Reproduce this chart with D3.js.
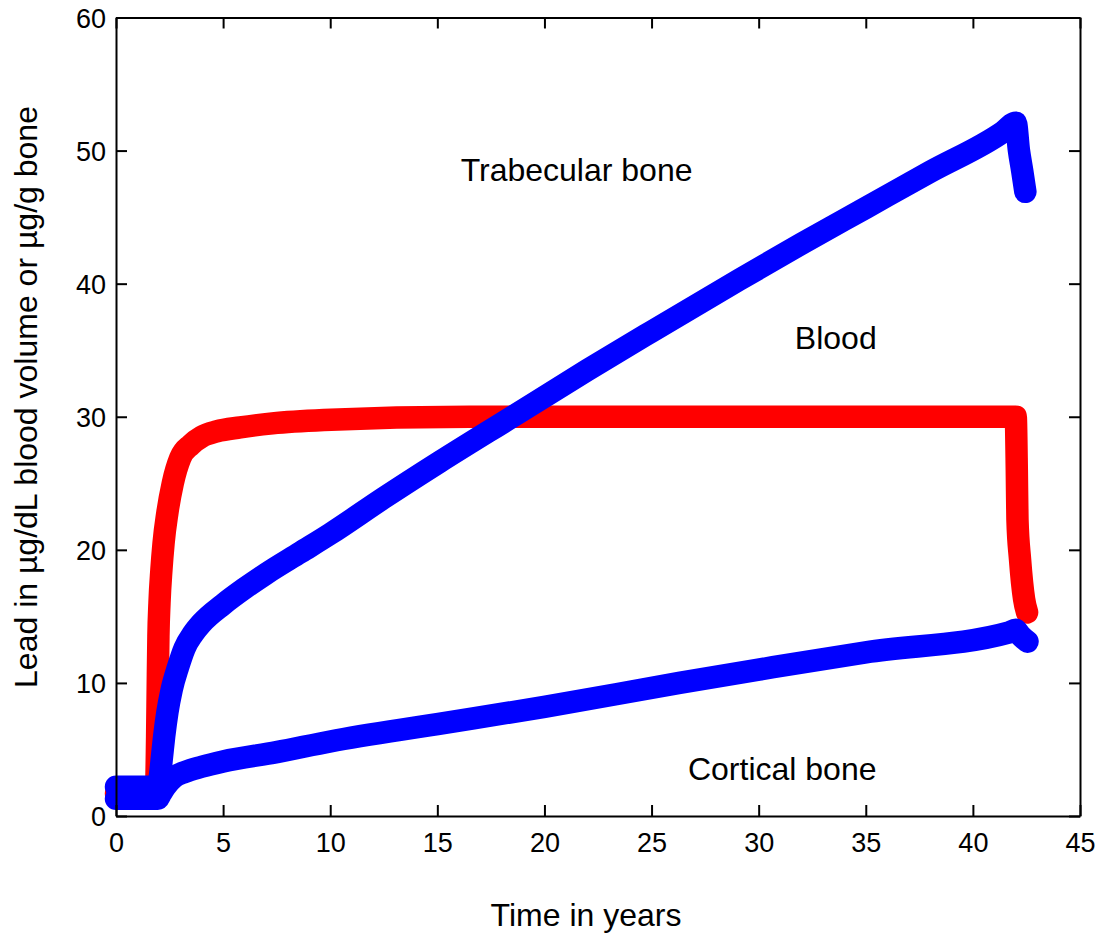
<!DOCTYPE html>
<html><head><meta charset="utf-8">
<script src="https://cdn.jsdelivr.net/npm/d3@7/dist/d3.min.js"></script>
<style>
body{margin:0;background:#fff}
text{font-family:"Liberation Sans",Arial,sans-serif;fill:#000}
</style>
</head><body>
<svg id="chart" width="1102" height="935"></svg>
<script>
// ---- data ----
const bloodTime = [0, 1.0, 1.86, 1.92, 1.95, 1.98, 2.03, 2.12, 2.22, 2.4, 2.65, 3.0, 3.5, 4.0, 4.7, 5.8, 7.3, 9.7, 16.5, 30, 42.0, 42.05, 42.08, 42.2, 42.39, 42.53];
const bloodVal  = [1.7, 1.7, 1.7, 6.0, 10.0, 13.5, 16.0, 18.5, 20.5, 22.8, 25.0, 26.9, 27.9, 28.5, 28.9, 29.2, 29.5, 29.75, 30.0, 30.0, 30.0, 26.0, 22.3, 19.3, 16.3, 15.3];

const trabTime = [0, 1.0, 1.95, 2.05, 2.15, 2.25, 2.4, 2.6, 2.9, 3.2, 3.6, 4.0, 5, 6, 7, 8.6, 10, 12.5, 15.1, 18.5, 22, 25, 29.1, 32, 35, 38, 41.4, 42.0, 42.15, 42.3, 42.45];
const trabVal  = [2.2, 2.2, 2.2, 3.0, 4.5, 6.0, 7.8, 9.5, 11.2, 12.6, 13.7, 14.5, 15.9, 17.1, 18.2, 19.8, 21.2, 23.9, 26.6, 30.0, 33.5, 36.4, 40.3, 43.0, 45.7, 48.4, 51.4, 52.1, 50.0, 48.5, 46.9];

const cortTime = [0, 1.0, 1.95, 2.1, 2.3, 2.7, 3.2, 4.0, 5, 7.5, 10, 15, 20, 26.3, 30, 35, 41.7, 42.0, 42.2, 42.55];
const cortVal  = [1.3, 1.3, 1.3, 1.7, 2.2, 2.9, 3.3, 3.7, 4.1, 4.8, 5.6, 6.9, 8.2, 10.0, 11.0, 12.3, 13.8, 14.0, 13.6, 13.1];

const xTicks = [0, 5, 10, 15, 20, 25, 30, 35, 40, 45];
const yTicks = [0, 10, 20, 30, 40, 50, 60];

const seriesNames = ["Blood", "Trabecular bone", "Cortical bone"];
const seriesColors = ["#ff0000", "#0000ff", "#0000ff"];

const annotations = [
  {text: "Trabecular bone", t: 21.5, v: 47.7},
  {text: "Blood", t: 33.6, v: 35.1},
  {text: "Cortical bone", t: 31.1, v: 2.7}
];

// ---- layout ----
const svg = d3.select("#chart");
const L = 116, R = 1080, T = 17.5, B = 816;
const x = d3.scaleLinear().domain([0, 45]).range([L, R]);
const y = d3.scaleLinear().domain([0, 60]).range([B, T]);

const series = [
  bloodTime.map((t, i) => [t, bloodVal[i]]),
  trabTime.map((t, i) => [t, trabVal[i]]),
  cortTime.map((t, i) => [t, cortVal[i]])
];

const line = d3.line().curve(d3.curveMonotoneX).x(d => x(d[0])).y(d => y(d[1]));

const g = svg.append("g");
series.forEach((s, i) => {
  g.append("path")
    .datum(s)
    .attr("d", line)
    .attr("fill", "none")
    .attr("stroke", seriesColors[i])
    .attr("stroke-width", 22.5)
    .attr("stroke-linecap", "round")
    .attr("stroke-linejoin", "round")
    .attr("data-name", seriesNames[i]);
});

// ---- axes ----
function styleAxis(sel) {
  sel.select(".domain").attr("stroke", "#000").attr("stroke-width", 2);
  sel.selectAll(".tick line").attr("stroke", "#000").attr("stroke-width", 2);
  sel.selectAll(".tick text").style("font-size", "27px").style("font-family", '"Liberation Sans",Arial,sans-serif');
}

svg.append("g").attr("transform", `translate(0,${B})`)
  .call(d3.axisBottom(x).tickValues(xTicks).tickFormat(d3.format("d")).tickSizeInner(-11).tickSizeOuter(0).tickPadding(17))
  .call(styleAxis);
svg.append("g").attr("transform", `translate(${L},0)`)
  .call(d3.axisLeft(y).tickValues(yTicks).tickFormat(d3.format("d")).tickSizeInner(-11).tickSizeOuter(0).tickPadding(10))
  .call(styleAxis)
  .selectAll(".tick text").attr("dy", "0.36em");
svg.append("g").attr("transform", `translate(0,${T})`)
  .call(d3.axisTop(x).tickValues(xTicks).tickFormat("").tickSizeInner(-11).tickSizeOuter(0))
  .call(styleAxis);
svg.append("g").attr("transform", `translate(${R},0)`)
  .call(d3.axisRight(y).tickValues(yTicks).tickFormat("").tickSizeInner(-11).tickSizeOuter(0))
  .call(styleAxis);

// ---- titles ----
svg.append("text").attr("x", 586).attr("y", 926).attr("text-anchor", "middle")
  .style("font-size", "32px").text("Time in years");
svg.append("text").attr("transform", "translate(37,397) rotate(-90)").attr("text-anchor", "middle")
  .style("font-size", "32px").text("Lead in µg/dL blood volume or µg/g bone");

// ---- annotations ----
annotations.forEach(a => {
  svg.append("text").attr("x", x(a.t)).attr("y", y(a.v)).attr("text-anchor", "middle")
    .style("font-size", "32px").text(a.text);
});
</script>
</body></html>
